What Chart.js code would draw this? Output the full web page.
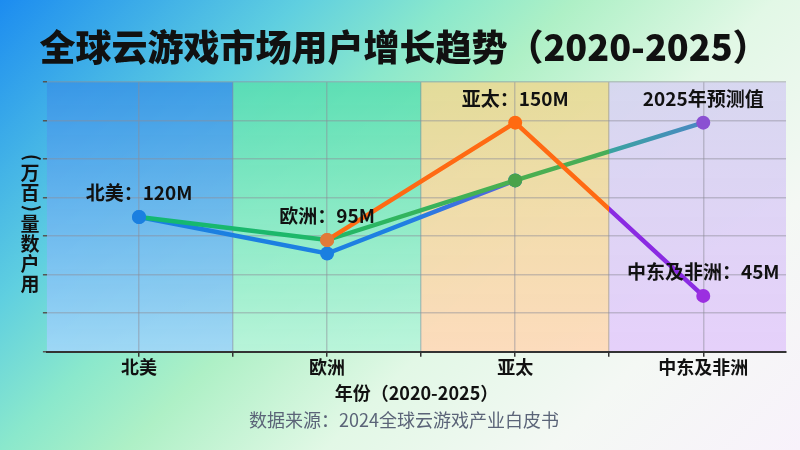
<!DOCTYPE html>
<html lang="zh">
<head>
<meta charset="utf-8">
<title>全球云游戏市场用户增长趋势</title>
<script src="https://cdn.jsdelivr.net/npm/chart.js@4.4.1/dist/chart.umd.min.js"></script>
<style>
  html, body { margin: 0; padding: 0; overflow: hidden; }
  .wrap {
    width: 800px; height: 450px;
    background: linear-gradient(135deg, #1c8cf0 0%, #5fcfe0 24%, #8ae8cc 36%, #aef0c6 46%, #e2f8e6 62%, #f4f8f4 80%, #f8f2fb 100%);
  }
  canvas { display: block; }
</style>
</head>
<body>
<div class="wrap"><canvas id="growthChart" width="800" height="450"></canvas></div>
<script>
// categories and series (y in chart units)
const regions = ['北美', '欧洲', '亚太', '中东及非洲'];
const baseUsers = [70, 51, 89, null];
const trendUsers = [70, 58, 89, 119];
const peakUsers = [null, 58, 119, 29];

// callout texts and which point they sit on
const calloutTexts = ['北美：120M', '欧洲：95M', '亚太：150M', '2025年预测值', '中东及非洲：45M'];
const calloutSeries = [0, 2, 2, 1, 2];
const calloutIndex = [0, 1, 2, 3, 3];

const yTitleText = '用户数量（百万）';
const xTitleText = '年份（2020-2025）';
const sourceText = '数据来源：2024全球云游戏产业白皮书';

const bandColors = [
    ['rgba(56,148,230,0.85)', 'rgba(160,214,248,0.92)'],
    ['rgba(88,222,176,0.85)', 'rgba(184,244,218,0.92)'],
    ['rgba(232,218,150,0.92)', 'rgba(253,218,186,0.95)'],
    ['rgba(214,212,240,0.92)', 'rgba(228,206,250,0.95)']
];

Chart.defaults.font.family = "'Noto Sans CJK SC', 'Noto Sans', sans-serif";

function toPoints(values) {
    return values.map((v, i) => ({ x: i, y: v }));
}

// horizontal gradient with stops given in x-scale values
function xGradient(chart, stops, fallback) {
    const { ctx, chartArea, scales } = chart;
    if (!chartArea || !scales.x) return fallback;
    const w = chartArea.right - chartArea.left;
    const g = ctx.createLinearGradient(chartArea.left, 0, chartArea.right, 0);
    stops.forEach(([v, c]) => {
        const t = (scales.x.getPixelForValue(v) - chartArea.left) / w;
        g.addColorStop(Math.min(1, Math.max(0, t)), c);
    });
    return g;
}

const regionBands = {
    id: 'regionBands',
    beforeDraw(chart) {
        const { ctx, chartArea, scales } = chart;
        ctx.save();
        regions.forEach((r, i) => {
            let x0 = Math.max(chartArea.left, scales.x.getPixelForValue(i - 0.5));
            let x1 = Math.min(chartArea.right, scales.x.getPixelForValue(i + 0.5));
            const g = ctx.createLinearGradient(0, chartArea.top, 0, chartArea.bottom);
            g.addColorStop(0, bandColors[i][0]);
            g.addColorStop(1, bandColors[i][1]);
            ctx.fillStyle = g;
            ctx.fillRect(x0, chartArea.top, x1 - x0, chartArea.bottom - chartArea.top);
        });
        ctx.restore();
    }
};

const callouts = {
    id: 'callouts',
    afterDatasetsDraw(chart) {
        const ctx = chart.ctx;
        ctx.save();
        ctx.font = "bold 19px 'Noto Sans CJK SC', sans-serif";
        ctx.fillStyle = '#111';
        ctx.textAlign = 'center';
        ctx.textBaseline = 'middle';
        calloutTexts.forEach((t, k) => {
            const pt = chart.getDatasetMeta(calloutSeries[k]).data[calloutIndex[k]];
            if (pt) ctx.fillText(t, pt.x, pt.y - 24);
        });
        ctx.restore();
    }
};

// y title: CJK upright, brackets turned, reading bottom to top
const verticalTitle = {
    id: 'verticalTitle',
    afterDraw(chart) {
        const ctx = chart.ctx;
        ctx.save();
        ctx.font = "bold 19px 'Noto Sans CJK SC', sans-serif";
        ctx.fillStyle = '#111';
        ctx.textAlign = 'center';
        ctx.textBaseline = 'middle';
        let y = 294;
        for (const ch of yTitleText) {
            const paren = ch === '（' || ch === '）';
            const adv = paren ? 11 : 20;
            ctx.save();
            ctx.translate(30, y - adv / 2);
            if (paren) {
                ctx.rotate(-Math.PI / 2);
                ctx.fillText(ch === '（' ? '(' : ')', 0, 0);
            } else {
                ctx.fillText(ch, 0, 0);
            }
            ctx.restore();
            y -= adv;
        }
        ctx.restore();
    }
};

new Chart(document.getElementById('growthChart'), {
    type: 'line',
    data: {
        datasets: [
            {
                label: '基准用户',
                data: toPoints(baseUsers),
                borderColor: c => xGradient(c.chart, [[0, '#1a7fe0'], [1.4, '#1e80e2'], [2, '#5c62dc']], '#1a7fe0'),
                pointBackgroundColor: '#1a7fe0',
                order: 3
            },
            {
                label: '增长趋势',
                data: toPoints(trendUsers),
                borderColor: c => xGradient(c.chart, [[0, '#12b873'], [1, '#20b868'], [2, '#4caf50'], [2.5, '#46ad58'], [2.5, '#3aa3a0'], [3, '#4a88c4']], '#20b868'),
                pointBackgroundColor: ['#1a7fe0', '#e07a3a', '#4aa24a', '#8a50d2'],
                order: 2
            },
            {
                label: '区域峰值',
                data: toPoints(peakUsers),
                borderColor: c => xGradient(c.chart, [[2.5, '#ff6a13'], [2.5, '#8a2be2']], '#ff6a13'),
                pointBackgroundColor: ['#e07a3a', '#e07a3a', '#ff6a10', '#9b2fe0'],
                order: 1
            }
        ]
    },
    options: {
        responsive: false,
        animation: false,
        devicePixelRatio: 1,
        layout: { padding: { left: 22, right: 14, top: 0, bottom: 0 } },
        elements: {
            line: { borderWidth: 4.5, tension: 0 },
            point: { radius: 7, hoverRadius: 7, borderWidth: 0 }
        },
        plugins: {
            legend: { display: false },
            tooltip: { enabled: false },
            title: {
                display: true,
                text: '全球云游戏市场用户增长趋势（2020-2025）',
                color: '#111',
                font: { size: 36, weight: '900' },
                padding: { top: 26, bottom: 13 }
            },
            subtitle: {
                display: true,
                position: 'bottom',
                text: sourceText,
                color: '#5b6478',
                font: { size: 18, weight: 'normal' },
                padding: { top: 5, bottom: 19.5 }
            }
        },
        scales: {
            x: {
                type: 'linear',
                min: -0.49,
                max: 3.44,
                grid: {
                    color: 'rgba(140,140,150,0.45)',
                    lineWidth: 1.5,
                    tickColor: '#333',
                    tickLength: 5
                },
                border: { display: true, color: '#333', width: 2 },
                ticks: {
                    stepSize: 0.5,
                    includeBounds: false,
                    autoSkip: false,
                    maxRotation: 0,
                    padding: 0,
                    color: '#111',
                    font: { size: 18, weight: 'bold' },
                    callback: v => Number.isInteger(v) ? regions[v] : ''
                },
                title: {
                    display: true,
                    text: xTitleText,
                    color: '#111',
                    font: { size: 18, weight: 'bold' },
                    padding: { top: 4, bottom: 0 }
                }
            },
            y: {
                min: 0,
                max: 140,
                grid: {
                    color: 'rgba(140,140,150,0.45)',
                    lineWidth: 1.5,
                    tickColor: '#555',
                    tickLength: 4
                },
                border: { display: false },
                ticks: { stepSize: 20, display: false },
                title: {
                    // reserves the room, the text itself is drawn by verticalTitle
                    display: true,
                    text: '',
                    font: { size: 19, lineHeight: 1.1 },
                    padding: 0
                }
            }
        }
    },
    plugins: [regionBands, callouts, verticalTitle]
});
</script>
</body>
</html>
